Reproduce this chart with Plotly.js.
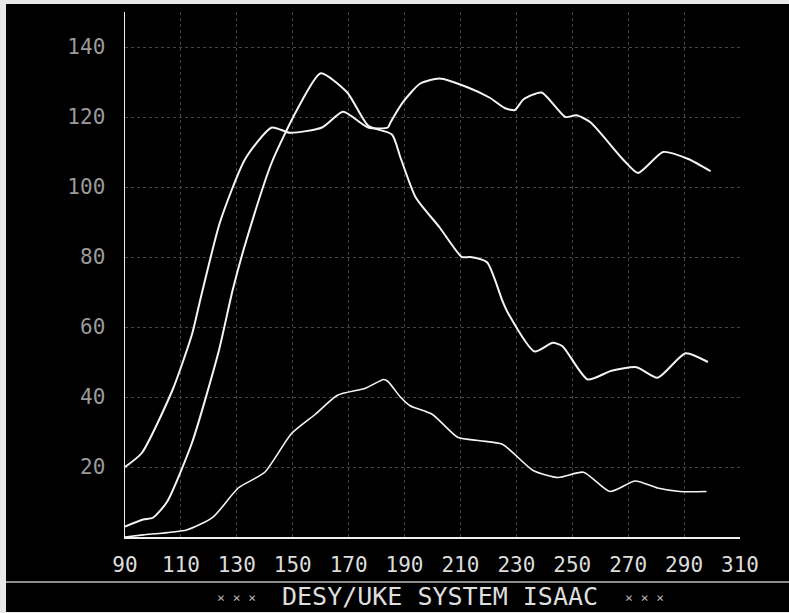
<!DOCTYPE html>
<html>
<head>
<meta charset="utf-8">
<script src="https://cdn.plot.ly/plotly-3.0.1.min.js"></script>
<style>
  html, body { margin: 0; padding: 0; background: #e8e8e8; width: 789px; height: 613px; overflow: hidden; }
  #chart { position: absolute; left: 6px; top: 4px; width: 783px; height: 608px; background: #000; }
</style>
</head>
<body>
<div id="chart"></div>
<script>
// Tick labels
const xTicks = [90, 110, 130, 150, 170, 190, 210, 230, 250, 270, 290, 310];
const yTicks = [20, 40, 60, 80, 100, 120, 140];

// Curve A (starts at 20, plateau ~117, second maximum ~131)
const xA = [90, 96, 107, 114, 117, 124, 133, 142.5, 149, 160.5, 168, 177, 184, 185, 189.5, 195.5, 202.5, 212.5, 220.5, 226, 229.5, 232.5, 239, 247.5, 251.5, 256.5, 268, 273.5, 282.5, 291.5, 299.5];
const yA = [20, 24, 42, 58, 68, 90, 108, 117, 115.5, 117, 121.5, 117, 117, 118.5, 124.3, 129.5, 131, 128.5, 125.5, 122.5, 122, 125, 127, 120, 120.5, 118.5, 108, 104, 110, 108, 104.5];

// Curve B (sharp maximum ~133 near 160)
const xB = [90, 96.5, 100, 105, 114, 123.5, 128.5, 133.5, 142.5, 151.5, 160, 169.5, 177, 185.5, 188.5, 194, 202.5, 210.5, 213.5, 219.5, 225, 227, 236.5, 243, 246.5, 255.5, 264, 273, 280.5, 290.5, 298.5];
const yB = [3, 5, 5.5, 10, 27, 53, 70.5, 85, 107, 122, 132.5, 127, 117.5, 115, 108.5, 97, 88.5, 80, 80, 78.5, 67.5, 64, 53, 55.5, 54.5, 45, 47.5, 48.5, 45.5, 52.5, 50];

// Curve C (lower curve, maximum ~45)
const xC = [90, 96.5, 112, 121.5, 130.5, 140, 149.5, 158, 166, 176, 182.5, 184, 188.5, 192, 200, 209, 217, 225, 236, 245, 254, 263.5, 272.5, 280.5, 288.5, 298];
const yC = [0, 0.6, 2, 5.7, 14, 18.5, 29.5, 35, 40.5, 42.5, 45, 44.5, 40, 37.5, 35, 28.5, 27.5, 26.5, 19, 17, 18.5, 13, 16, 14, 13, 13];

const footerText = 'DESY/UKE SYSTEM ISAAC';
const footerStars = '× × ×';

const mono = '"DejaVu Sans Mono", "Liberation Mono", monospace';

function curve(x, y, w) {
  return {
    x: x, y: y, type: 'scatter', mode: 'lines',
    line: { color: '#f4f4f4', width: w, shape: 'spline', smoothing: 0.6 },
    hoverinfo: 'skip', showlegend: false
  };
}

const data = [curve(xA, yA, 2), curve(xB, yB, 2), curve(xC, yC, 1.6)];

const layout = {
  width: 783, height: 608,
  paper_bgcolor: '#000', plot_bgcolor: '#000',
  margin: { l: 119, r: 49, t: 8, b: 75 },
  showlegend: false,
  xaxis: {
    range: [90, 310], tickvals: xTicks, ticktext: xTicks.map(String),
    showline: true, linecolor: '#f0f0f0', linewidth: 2,
    showgrid: true, gridcolor: '#444444', griddash: 'dot', gridwidth: 1,
    zeroline: false, ticks: '', ticklabelstandoff: 8,
    tickfont: { family: mono, size: 21, color: '#dcdcdc' }
  },
  yaxis: {
    range: [0, 150], tickvals: yTicks, ticktext: yTicks.map(String),
    showline: true, linecolor: '#f0f0f0', linewidth: 1.5,
    showgrid: true, gridcolor: '#444444', griddash: 'dot', gridwidth: 1,
    zeroline: false, ticks: '', ticklabelstandoff: 14,
    tickfont: { family: mono, size: 21, color: '#9a9a9a' }
  },
  shapes: [{
    type: 'line', xref: 'paper', yref: 'paper',
    x0: -0.3, x1: 1.2, y0: -0.0857, y1: -0.0857,
    line: { color: '#bdbdbd', width: 1.5 }
  }],
  annotations: [
    { text: footerText, xref: 'paper', yref: 'paper', x: 0.512, y: -0.1124,
      xanchor: 'center', yanchor: 'middle', showarrow: false,
      font: { family: mono, size: 25, color: '#dedede' } },
    { text: footerStars, xref: 'paper', yref: 'paper', x: 0.182, y: -0.116,
      xanchor: 'center', yanchor: 'middle', showarrow: false,
      font: { family: mono, size: 13, color: '#bbbbbb' } },
    { text: footerStars, xref: 'paper', yref: 'paper', x: 0.844, y: -0.116,
      xanchor: 'center', yanchor: 'middle', showarrow: false,
      font: { family: mono, size: 13, color: '#bbbbbb' } }
  ]
};

Plotly.newPlot('chart', data, layout, { displayModeBar: false, staticPlot: true });
</script>
</body>
</html>
